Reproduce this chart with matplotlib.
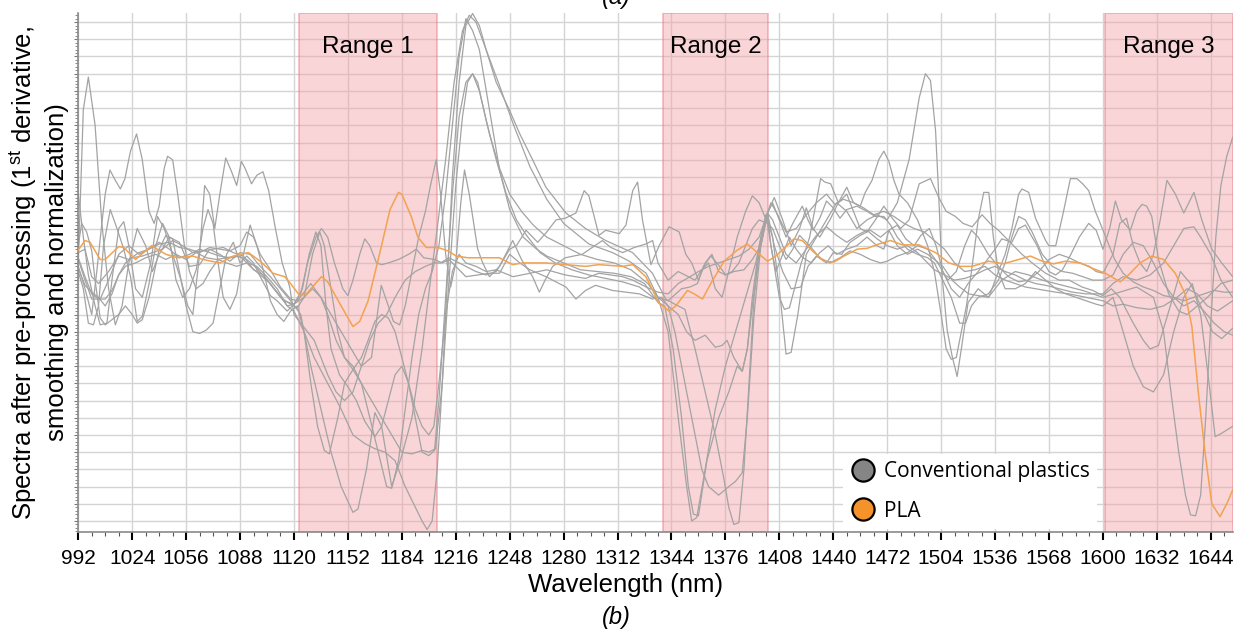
import numpy as np
import matplotlib
matplotlib.use("Agg")
import matplotlib.pyplot as plt
from matplotlib.lines import Line2D

plt.rcParams["font.family"] = ["Liberation Sans", "DejaVu Sans"]
plt.rcParams["mathtext.fontset"] = "custom"
plt.rcParams["mathtext.rm"] = "Liberation Sans"
plt.rcParams["mathtext.it"] = "Liberation Sans:italic"

# spectra: (wavelength nm, value in grid units)
g1 = [(992, 15.0), (995, 23.9), (998, 25.8), (1002, 23.0), (1006, 17.3), (1010, 13.5), (1014, 11.4), (1018, 12.5),
      (1022, 15.0), (1027, 17.0), (1032, 16.0), (1036, 14.5), (1040, 15.5), (1046, 16.5), (1052, 16.2), (1058, 14.8),
      (1064, 14.9), (1070, 15.8), (1076, 15.5), (1082, 15.1), (1088, 15.6), (1094, 15.5), (1100, 14.8), (1106, 14.2),
      (1112, 13.5), (1118, 12.8), (1124, 12.0), (1130, 9.0), (1136, 6.5), (1142, 4.0), (1148, 2.0), (1155, 0.5),
      (1158, 0.7), (1163, 3.0), (1168, 6.3), (1172, 5.5), (1178, 2.0), (1184, 3.8), (1190, 6.0), (1196, 10.0),
      (1201, 14.0), (1205, 17.0), (1210, 21.0), (1215, 25.5), (1220, 28.5), (1224, 29.4), (1228, 29.0), (1234, 27.4),
      (1242, 25.3), (1250, 23.1), (1260, 20.6), (1270, 18.7), (1280, 17.3), (1295, 16.1), (1309, 15.6), (1319, 15.1),
      (1329, 14.4), (1336, 13.0), (1342, 11.0), (1348, 6.0), (1353, 2.0), (1356, 0.0), (1359, 0.2), (1364, 3.0),
      (1370, 6.5), (1376, 9.0), (1382, 11.0), (1388, 13.0), (1394, 15.0), (1400, 17.8), (1404, 16.5), (1408, 13.5),
      (1412, 9.7), (1415, 9.8), (1419, 12.0), (1424, 15.5), (1430, 16.5), (1436, 17.5), (1442, 18.5), (1448, 18.0),
      (1454, 17.0), (1460, 17.5), (1466, 17.8), (1472, 17.5), (1478, 18.5), (1485, 21.0), (1491, 24.6), (1494.7, 26.0),
      (1497.7, 25.6), (1500.7, 22.7), (1502.6, 18.9), (1504.6, 14.2), (1507.6, 11.1), (1510.5, 9.6), (1513.5, 8.4),
      (1516, 10.0), (1520, 12.7), (1526, 13.5), (1532, 13.0), (1540, 14.0), (1548, 14.5), (1556, 14.3), (1564, 14.0),
      (1572, 13.8), (1580, 13.6), (1588, 13.4), (1594, 13.2), (1600, 13.0), (1610, 13.3), (1620, 13.6), (1630, 13.0),
      (1636, 11.0), (1641, 7.0), (1645, 4.0), (1649, 1.5), (1652, 0.35), (1655, 0.3), (1658, 1.5), (1661, 6.0),
      (1664, 11.5), (1667, 16.5), (1670, 19.5), (1673.5, 21.2), (1677, 22.3)]
g2 = [(992, 14.8), (996, 13.5), (1000, 12.0), (1003, 14.5), (1006, 17.3), (1008, 19.0), (1010.8, 20.4), (1014, 19.8),
      (1017, 19.3), (1019.7, 19.9), (1023, 21.5), (1026.6, 22.5), (1030, 21.0), (1034, 18.0), (1037, 17.3), (1040, 18.3),
      (1043, 20.5), (1045, 21.2), (1048, 21.0), (1051, 19.0), (1055, 16.0), (1058, 14.5), (1062, 13.5), (1066, 13.8),
      (1070, 14.5), (1075, 15.2), (1080, 15.0), (1086, 14.8), (1092, 15.0), (1098, 14.8), (1104, 14.2), (1110, 13.5),
      (1116, 12.5), (1120, 12.2), (1126, 11.0), (1132, 9.5), (1140, 8.0), (1148, 6.5), (1155, 5.0), (1162, 4.5),
      (1168, 4.2), (1174, 4.0), (1180, 3.5), (1186, 2.0), (1192, 0.8), (1196, 0.0), (1199, -0.5), (1202, 0.0),
      (1205, 3.0), (1208, 8.0), (1211, 14.0), (1214, 20.0), (1218, 25.5), (1222, 28.8), (1226, 29.5), (1230, 28.8),
      (1234, 27.4), (1240, 25.5), (1247.8, 23.9), (1254, 22.5), (1261.6, 21.0), (1269.5, 19.4), (1281.4, 17.9),
      (1293, 17.0), (1305, 16.3), (1320.9, 15.6), (1332.7, 14.4), (1340.6, 12.9), (1346, 12.6), (1352, 12.3),
      (1358, 10.0), (1364, 7.5), (1370, 5.0), (1375, 2.5), (1378, 0.8), (1381, -0.2), (1384, -0.1), (1387, 3.0),
      (1390, 8.0), (1393, 13.0), (1397, 16.5), (1401, 17.9), (1403, 16.0), (1408, 13.0), (1411, 12.3), (1414, 12.4),
      (1417, 13.5), (1421, 15.0), (1426, 16.5), (1432.5, 19.9), (1435, 19.7), (1438.5, 19.6), (1443, 18.5),
      (1448, 19.4), (1452, 18.5), (1456, 18.3), (1459, 19.1), (1463, 19.8), (1467, 21.0), (1470, 21.5), (1473, 20.9),
      (1476, 19.8), (1479, 19.0), (1484, 18.5), (1490, 17.5), (1496, 16.0), (1500, 14.5), (1504, 12.0), (1507, 10.0),
      (1510, 9.4), (1513, 9.5), (1516, 11.0), (1519, 12.5), (1522, 14.5), (1526, 17.5), (1529.3, 19.1), (1532.3, 19.1),
      (1535, 16.5), (1538, 14.5), (1542, 13.5), (1548, 13.5), (1554, 13.8), (1560, 14.5), (1566, 14.0), (1572, 13.5),
      (1578, 13.2), (1584, 13.0), (1590, 12.8), (1596, 12.6), (1600, 12.5), (1606, 13.0), (1612, 11.0), (1618, 9.0),
      (1624, 7.8), (1630, 7.5), (1636, 8.5), (1642, 11.0), (1648, 13.0), (1653, 13.8), (1658, 12.0), (1663, 8.0),
      (1666.6, 4.9), (1670.5, 5.1), (1677, 5.5)]
g3 = [(992, 14.5), (995, 13.5), (998, 11.5), (1001, 11.4), (1004, 12.5), (1007, 16.0), (1011, 18.1), (1015, 17.0),
      (1019, 15.8), (1023, 14.2), (1027, 11.6), (1030, 11.9), (1034, 13.8), (1038, 16.0), (1042, 17.3), (1046, 16.5),
      (1050, 14.0), (1054, 13.0), (1058, 13.5), (1062, 14.6), (1066, 17.0), (1069, 18.1), (1072, 17.3), (1075, 15.0),
      (1078, 13.0), (1082, 12.3), (1086, 13.2), (1090, 15.5), (1094, 17.2), (1098, 16.0), (1102, 14.5), (1106, 12.8),
      (1110, 12.0), (1114, 11.6), (1118, 12.2), (1122, 12.5), (1126, 11.0), (1130, 8.0), (1134, 5.5), (1138, 4.1),
      (1141, 3.9), (1146, 6.0), (1150, 8.0), (1155, 8.8), (1160, 8.0), (1165, 6.0), (1170, 4.0), (1175, 2.0),
      (1178, 1.9), (1182, 3.5), (1186, 6.5), (1190, 9.5), (1194, 12.0), (1198, 13.5), (1202, 14.5), (1206, 16.0),
      (1210, 19.0), (1214, 23.0), (1218, 27.0), (1222, 29.2), (1226, 28.5), (1230, 27.4), (1236, 23.9), (1242, 20.4),
      (1248, 18.1), (1256, 16.5), (1264, 15.8), (1270, 15.4), (1280, 15.0), (1290, 14.6), (1300, 14.5), (1310, 14.4),
      (1320, 14.2), (1328, 13.8), (1336, 12.7), (1340, 12.5), (1345, 10.0), (1350, 6.0), (1354, 2.0), (1357, 0.4),
      (1360, 0.3), (1365, 3.5), (1372, 6.0), (1378, 7.5), (1383, 9.0), (1386, 8.7), (1389, 10.0), (1392, 13.0),
      (1396, 16.0), (1401, 17.9), (1405, 18.8), (1410, 17.5), (1415, 16.0), (1420, 17.0), (1424, 18.2), (1428, 17.0),
      (1432, 16.5), (1438, 17.5), (1443, 18.5), (1448, 19.0), (1452, 18.0), (1456, 17.0), (1460, 16.8), (1465, 17.5),
      (1470, 18.3), (1475, 17.6), (1480, 17.0), (1485, 17.5), (1491, 19.6), (1497.7, 19.9), (1502.6, 18.8),
      (1507, 18.0), (1512.5, 17.7), (1517, 17.3), (1522.4, 17.1), (1528.3, 17.8), (1533, 17.3), (1538, 16.9),
      (1546, 16.1), (1552, 15.5), (1558, 15.0), (1566, 14.4), (1574, 14.0), (1580, 14.0), (1587.6, 13.6), (1594, 13.4),
      (1600, 13.1), (1605, 13.5), (1610, 13.0), (1618, 11.5), (1624, 10.5), (1628, 10.0), (1633, 10.2), (1640, 12.5),
      (1646, 14.5), (1652, 13.8), (1658, 12.5), (1665, 11.0), (1670.5, 10.6), (1677, 11.2)]
g4 = [(992, 15.3), (996, 14.2), (1000, 13.2), (1004, 12.9), (1008, 12.9), (1012, 13.4), (1016, 14.3), (1020, 15.0),
      (1024, 15.3), (1030, 15.4), (1036, 15.6), (1042, 15.8), (1048, 16.3), (1054, 16.0), (1060, 15.6), (1066, 15.7),
      (1072, 15.8), (1078, 15.9), (1084, 15.6), (1090, 15.4), (1096, 14.6), (1102, 14.3), (1108, 13.5), (1114, 12.8),
      (1120, 12.6), (1124, 13.2), (1128, 15.0), (1133, 16.5), (1136.3, 17.0), (1140, 16.5), (1144, 15.0), (1149, 13.5),
      (1152, 13.1), (1155, 14.0), (1159, 15.5), (1162, 16.4), (1165, 16.0), (1169, 15.0), (1172, 14.9), (1176, 15.0),
      (1182, 15.2), (1188, 15.5), (1192.6, 15.8), (1197, 15.3), (1203.4, 15.2), (1208, 15.0), (1212, 15.2),
      (1216, 14.8), (1222, 14.2), (1229, 14.3), (1236, 14.4), (1242, 14.4), (1248, 15.5), (1254, 15.0), (1260, 14.6),
      (1269.5, 14.2), (1281.4, 13.6), (1287.3, 12.9), (1293, 13.4), (1299, 13.7), (1309, 13.4), (1317, 13.3),
      (1325, 13.2), (1332.8, 12.9), (1336, 13.0), (1342, 12.8), (1350, 13.5), (1355, 13.6), (1359.4, 13.8),
      (1363, 14.8), (1367.3, 15.4), (1371, 15.0), (1376.2, 14.3), (1381, 14.5), (1387, 14.6), (1392, 15.2),
      (1397, 16.0), (1401, 17.9), (1405, 16.0), (1410, 14.5), (1415, 13.5), (1420.7, 13.6), (1425, 14.8), (1430, 15.4),
      (1436, 15.0), (1440, 15.6), (1445, 15.5), (1450, 16.2), (1456, 16.6), (1462, 16.9), (1468, 16.5), (1473, 16.9),
      (1478, 16.0), (1484, 15.5), (1490, 15.8), (1496, 15.5), (1500, 15.2), (1505, 14.8), (1510.5, 14.0), (1515, 13.6),
      (1520.4, 13.2), (1526, 13.1), (1532.3, 13.0), (1538, 14.5), (1542, 15.5), (1546, 17.0), (1550, 19.0),
      (1552, 19.3), (1556, 19.1), (1560, 17.6), (1566, 16.3), (1568, 16.0), (1572, 16.0), (1576, 17.7), (1580.7, 19.9),
      (1584.6, 19.9), (1588, 19.6), (1591.6, 19.2), (1595.5, 18.0), (1600.5, 16.8), (1603.3, 16.1), (1607, 15.2),
      (1612, 14.4), (1618, 13.9), (1624, 13.6), (1630, 13.4), (1636, 13.1), (1642, 13.0), (1648, 12.8), (1654, 13.0),
      (1660, 13.2), (1666, 13.4), (1672, 13.3), (1677, 13.3)]
g5 = [(992, 14.7), (996, 13.7), (1000, 13.3), (1004, 13.0), (1008, 12.5), (1012, 13.2), (1016, 14.3), (1020, 14.8),
      (1026, 15.0), (1032, 15.3), (1038, 15.5), (1044, 15.2), (1050, 15.5), (1056, 15.2), (1062, 15.6), (1068, 15.3),
      (1074, 15.2), (1080, 15.3), (1086, 15.4), (1092, 15.2), (1098, 14.7), (1104, 14.0), (1110, 13.3), (1116, 12.5),
      (1120, 12.6), (1126, 13.0), (1131, 15.5), (1135.3, 16.8), (1138, 16.0), (1142, 13.5), (1146, 11.0), (1150, 9.5),
      (1155, 9.0), (1160, 8.0), (1166, 7.0), (1172, 6.0), (1178, 5.0), (1184, 4.0), (1190, 3.9), (1196, 4.1),
      (1200, 4.0), (1204, 4.2), (1208, 8.0), (1212, 14.0), (1216, 19.5), (1220, 23.5), (1223, 25.5), (1226, 26.0),
      (1229, 25.5), (1234, 23.3), (1240, 21.0), (1246, 19.0), (1252, 17.5), (1258, 16.6), (1266, 15.6), (1275, 15.0),
      (1285, 14.6), (1295, 14.3), (1305, 14.1), (1315, 13.9), (1325, 13.6), (1333, 13.0), (1338, 13.0), (1342, 12.5),
      (1346, 11.0), (1352, 8.0), (1358, 5.0), (1362, 3.0), (1366, 2.0), (1372, 1.5), (1378, 2.0), (1382, 2.3),
      (1386, 2.8), (1389, 6.0), (1393, 12.0), (1397, 16.0), (1401, 17.9), (1404, 18.5), (1408, 17.5), (1412, 16.5),
      (1416, 17.3), (1421.6, 18.3), (1425, 17.5), (1428, 16.9), (1432, 17.6), (1436, 18.6), (1440, 18.2), (1444, 17.6),
      (1448, 18.1), (1454, 18.3), (1460, 18.0), (1465, 17.7), (1470, 17.7), (1474, 17.2), (1478, 16.5), (1484, 15.8),
      (1490, 15.5), (1496, 15.3), (1500, 15.0), (1505, 14.0), (1510, 13.0), (1515, 11.5), (1518.5, 11.5), (1522, 12.5),
      (1526, 13.0), (1532, 13.2), (1538, 14.0), (1542, 15.0), (1546, 16.5), (1550, 17.7), (1554, 17.5), (1558, 16.8),
      (1564, 15.5), (1570, 14.8), (1576, 14.5), (1582, 14.4), (1588, 14.2), (1594, 14.0), (1600, 14.0), (1606, 14.3),
      (1612, 15.5), (1618, 16.2), (1624, 16.0), (1630, 15.0), (1636, 13.8), (1642, 13.0), (1648, 12.5), (1654, 12.8),
      (1660, 12.2), (1666, 11.5), (1672, 11.0), (1677, 10.8)]
g6 = [(992, 16.0), (994, 17.3), (997, 16.8), (1000, 15.7), (1002, 14.0), (1005, 11.8), (1008, 11.4), (1012, 11.7),
      (1016, 12.0), (1020, 12.5), (1024, 12.0), (1027, 11.5), (1030, 11.7), (1034, 13.0), (1040, 15.8), (1044, 16.6),
      (1048, 16.4), (1052, 14.5), (1056, 12.5), (1060, 11.0), (1064, 10.9), (1068, 11.1), (1072, 11.5), (1076, 13.5),
      (1080, 15.5), (1084, 16.2), (1088, 15.0), (1092, 15.4), (1096, 15.0), (1100, 14.2), (1106, 13.1), (1110, 12.8),
      (1116, 12.2), (1120, 12.6), (1125, 13.5), (1129, 15.5), (1133, 16.8), (1136, 16.0), (1139, 12.5), (1142, 10.0),
      (1147, 8.5), (1152, 7.8), (1157, 7.0), (1162, 5.8), (1168, 4.9), (1172, 5.5), (1176, 7.0), (1180, 8.5),
      (1184, 9.0), (1188, 8.0), (1192, 6.0), (1196, 4.0), (1200, 3.8), (1203.4, 4.1), (1206, 7.0), (1210, 13.0),
      (1214, 19.0), (1218, 23.5), (1222, 25.5), (1226, 26.0), (1230, 25.0), (1236, 22.5), (1242, 20.5), (1248, 19.0),
      (1255, 18.0), (1262, 17.2), (1270, 16.5), (1280, 16.0), (1290, 15.5), (1300, 15.2), (1310, 15.0), (1320, 14.6),
      (1330, 13.8), (1336, 13.0), (1342, 12.5), (1348, 12.0), (1353, 11.0), (1358, 10.5), (1364, 10.8), (1370, 10.1),
      (1374, 10.2), (1377, 10.5), (1381, 9.5), (1386, 8.7), (1389, 10.0), (1392, 12.5), (1396, 15.5), (1401, 17.9),
      (1403, 18.5), (1407, 17.8), (1412, 16.8), (1418, 17.0), (1424, 17.8), (1430, 18.5), (1436, 19.0), (1441, 18.4),
      (1446, 18.7), (1452, 18.5), (1458, 18.2), (1464, 17.8), (1470, 18.0), (1476, 17.7), (1482, 17.3), (1488, 17.0),
      (1494, 16.8), (1500, 16.3), (1506, 15.8), (1512, 15.0), (1518, 14.5), (1524, 14.6), (1530, 14.8), (1536, 14.3),
      (1542, 14.0), (1548, 13.8), (1554, 13.6), (1560, 13.5), (1566, 13.4), (1572, 13.3), (1580, 13.2), (1590, 13.0),
      (1600, 12.8), (1606, 12.5), (1612, 12.6), (1620, 12.4), (1628, 12.3), (1636, 12.5), (1644, 13.0), (1650, 13.5),
      (1656, 13.2), (1662, 12.5), (1668, 12.2), (1677, 12.8)]
g7 = [(992, 19.0), (995, 16.5), (998, 14.3), (1002, 12.5), (1005, 11.4), (1009, 11.5), (1012, 14.0), (1016, 17.0),
      (1019, 17.4), (1022, 16.0), (1026, 13.5), (1030, 13.0), (1035, 15.0), (1039, 17.7), (1043, 17.0), (1048, 15.5),
      (1053, 14.0), (1057, 12.5), (1060, 12.0), (1064, 15.5), (1067, 19.5), (1070, 19.0), (1073, 17.0), (1076, 19.0),
      (1079.5, 21.1), (1083, 20.3), (1086, 19.5), (1088.8, 20.9), (1091, 20.5), (1094.8, 19.6), (1098, 20.1),
      (1101.6, 20.3), (1105, 19.2), (1109, 17.0), (1113, 15.0), (1117.5, 13.6), (1120, 12.0), (1124, 11.5),
      (1128, 11.0), (1132, 10.5), (1136, 9.5), (1140, 8.5), (1145, 7.5), (1150, 7.0), (1155, 7.5), (1160, 9.0),
      (1165, 10.5), (1170, 11.5), (1175, 12.0), (1180, 13.0), (1186, 14.0), (1192, 14.5), (1198, 14.8), (1203, 15.0),
      (1207, 15.0), (1212, 15.3), (1216, 15.1), (1222, 14.8), (1228, 14.5), (1234, 14.3), (1240, 14.5), (1248, 15.8),
      (1252, 16.0), (1257.7, 16.9), (1264.6, 16.2), (1270, 16.8), (1275.5, 17.5), (1281, 17.6), (1287.3, 17.9),
      (1292.2, 19.2), (1295, 18.9), (1301, 16.6), (1305, 16.9), (1313, 16.7), (1317, 17.2), (1321, 19.2),
      (1323.9, 19.7), (1326.8, 17.5), (1331.8, 14.9), (1336.7, 16.0), (1342.6, 17.1), (1348.6, 16.8), (1352.5, 15.5),
      (1356, 15.0), (1360, 14.0), (1364, 15.0), (1368, 15.5), (1372, 14.5), (1376, 14.3), (1380, 14.5), (1384, 15.0),
      (1388, 16.0), (1392, 17.0), (1396, 17.5), (1401, 17.3), (1403, 16.0), (1406, 14.5), (1410, 15.5), (1414, 16.5),
      (1418, 15.8), (1422, 15.3), (1427, 15.0), (1432, 15.6), (1437, 16.0), (1442, 15.5), (1448, 15.8), (1454, 16.0),
      (1460, 16.5), (1466, 16.0), (1470, 15.8), (1473, 16.9), (1478, 17.2), (1483, 16.4), (1488, 16.0), (1492, 16.6),
      (1497, 17.0), (1501, 16.0), (1505, 14.5), (1510, 13.5), (1515, 13.0), (1520, 13.8), (1526, 14.5), (1530, 15.0),
      (1536, 15.8), (1540, 16.4), (1546, 16.2), (1550, 17.0), (1554, 17.2), (1558, 16.5), (1561, 16.0), (1565, 15.0),
      (1568, 14.5), (1572, 14.3), (1576, 14.6), (1581, 15.5), (1586, 16.5), (1591.6, 17.3), (1596, 16.9), (1600, 15.8),
      (1604, 17.0), (1607.4, 18.6), (1611, 17.5), (1616.3, 16.9), (1620, 18.0), (1623.2, 18.4), (1626, 18.3),
      (1629, 17.7), (1633, 15.2), (1639, 13.2), (1645, 12.2), (1650, 12.0), (1656, 12.5), (1662, 13.0), (1670, 13.8),
      (1677, 14.0)]
g8 = [(992, 15.6), (996, 15.8), (1000, 14.2), (1004, 13.8), (1010, 14.5), (1016, 15.4), (1022, 15.2), (1028, 15.6),
      (1034, 15.8), (1040, 16.1), (1046, 16.2), (1052, 15.9), (1058, 15.8), (1064, 15.6), (1070, 15.9), (1076, 15.8),
      (1082, 15.7), (1088, 16.0), (1092, 16.8), (1096, 16.5), (1100, 15.5), (1106, 14.6), (1112, 13.6), (1118, 12.9),
      (1122, 12.8), (1126, 13.3), (1130, 13.8), (1136, 13.0), (1142, 12.0), (1148, 11.0), (1154, 10.0), (1160, 9.0),
      (1166, 9.5), (1171.8, 13.7), (1176, 12.5), (1179, 11.6), (1182.7, 11.4), (1186, 12.5), (1190, 14.5),
      (1194, 16.5), (1198, 18.0), (1201, 19.5), (1204.4, 21.0), (1207, 19.0), (1210, 15.5), (1213, 13.6), (1216, 15.0),
      (1219, 18.5), (1221.2, 20.4), (1224, 19.0), (1229, 15.8), (1232, 15.0), (1236, 14.2), (1242, 14.8),
      (1249.8, 16.3), (1255, 15.2), (1261.6, 14.2), (1265.6, 13.3), (1269, 14.0), (1273.5, 14.8), (1281, 15.3),
      (1291, 15.5), (1297, 15.9), (1303, 16.3), (1308, 15.9), (1315, 15.6), (1322, 15.9), (1328.8, 16.1),
      (1332.8, 16.3), (1336, 15.0), (1342, 14.0), (1348, 14.5), (1352, 14.3), (1358, 14.0), (1362, 14.6), (1366, 15.0),
      (1370, 13.5), (1374, 13.0), (1378, 14.5), (1383, 16.5), (1388, 18.0), (1392, 18.9), (1396, 18.5), (1401, 17.3),
      (1404, 17.0), (1408, 16.0), (1412, 15.2), (1416, 15.8), (1420, 16.6), (1426, 16.0), (1432, 15.3), (1438, 15.0),
      (1444, 15.3), (1450, 15.7), (1456, 15.5), (1462, 15.2), (1468, 15.0), (1472, 15.1), (1478, 15.4), (1484, 15.6),
      (1490, 16.0), (1496, 15.8), (1502, 15.0), (1508, 14.0), (1513, 14.5), (1518, 16.0), (1522, 16.9), (1526, 16.5),
      (1532, 15.5), (1538, 14.8), (1544, 14.2), (1550, 13.9), (1556, 14.0), (1562, 14.5), (1568, 15.2), (1574, 15.5),
      (1580, 15.3), (1586, 15.0), (1592, 14.8), (1596, 14.5), (1600, 14.4), (1606, 15.5), (1610, 17.3), (1614, 17.6),
      (1618, 16.0), (1622, 15.0), (1626, 14.5), (1630, 15.5), (1634, 17.5), (1638, 19.8), (1643, 19.0), (1648, 17.9),
      (1654, 19.1), (1658.7, 17.5), (1664.6, 15.8), (1670.5, 15.0), (1677, 14.2)]
g9 = [(992, 15.2), (996, 14.0), (1000, 12.9), (1005, 12.9), (1010, 14.0), (1016, 15.5), (1022, 16.0), (1028, 15.5),
      (1034, 15.8), (1040, 16.2), (1046, 15.8), (1052, 15.3), (1058, 15.5), (1064, 15.8), (1070, 15.6), (1076, 15.4),
      (1082, 15.3), (1088, 15.4), (1094, 14.8), (1100, 14.3), (1106, 13.8), (1112, 13.0), (1118, 12.6), (1122, 12.4),
      (1126, 13.0), (1131, 13.5), (1136, 13.0), (1140, 12.0), (1145, 10.5), (1150, 9.5), (1155, 8.8), (1160, 9.5),
      (1164, 10.5), (1168, 11.6), (1172, 12.0), (1176, 11.8), (1180, 11.0), (1184, 9.5), (1188, 8.0), (1192, 6.5),
      (1196, 5.5), (1200, 5.0), (1203, 5.5), (1206, 8.0), (1210, 12.0), (1214, 14.5), (1218, 15.5), (1222, 15.0),
      (1228, 14.8), (1234, 14.5), (1240, 14.6), (1250, 14.2), (1260, 14.4), (1270, 14.6), (1281, 14.3), (1293, 14.1),
      (1301, 14.4), (1315, 14.2), (1321, 14.0), (1329, 13.6), (1336, 13.3), (1342, 13.2), (1348, 13.8), (1355, 14.2),
      (1360, 14.5), (1366, 14.8), (1372, 15.0), (1378, 15.2), (1384, 15.4), (1390, 15.8), (1396, 16.5), (1401, 17.9),
      (1404, 17.5), (1408, 16.5), (1412, 15.5), (1418, 15.0), (1424, 15.8), (1430, 16.6), (1436, 17.1), (1442, 16.6),
      (1448, 16.2), (1454, 16.6), (1460, 16.9), (1466, 16.4), (1472, 16.0), (1478, 15.8), (1484, 16.0), (1490, 15.6),
      (1496, 15.0), (1500, 14.6), (1506, 14.3), (1512, 14.0), (1518, 14.1), (1524, 14.3), (1530, 14.6), (1536, 14.8),
      (1542, 14.5), (1548, 14.3), (1554, 14.0), (1560, 13.8), (1566, 13.7), (1574, 13.5), (1582, 13.3), (1590, 13.2),
      (1600, 13.2), (1606, 13.8), (1612, 14.2), (1620, 14.0), (1628, 14.3), (1636, 15.0), (1642, 16.0), (1648, 17.0),
      (1654, 17.1), (1658, 16.5), (1664, 15.5), (1670, 14.0), (1677, 13.0)]
conventional = [g1, g2, g3, g4, g5, g6, g7, g8, g9]

pla = [(992, 15.75), (996, 16.3), (999, 16.2), (1005, 15.2), (1008, 15.2), (1016, 15.95), (1019, 15.9), (1026, 15.2),
       (1035.5, 16.0), (1044, 15.5), (1051, 15.3), (1060, 15.4), (1066, 15.2), (1076, 15.0), (1084, 15.4),
       (1093, 15.6), (1100, 15.1), (1107.5, 14.4), (1114.5, 14.2), (1118, 13.8), (1123.4, 13.1), (1127.4, 13.2),
       (1136.3, 14.2), (1140, 13.9), (1148, 12.5), (1155, 11.3), (1159, 11.6), (1164, 12.8), (1170, 15.2),
       (1177, 18.1), (1182, 19.1), (1184, 19.0), (1189.6, 17.7), (1193.5, 16.5), (1198.5, 15.9), (1205.4, 15.9),
       (1211.4, 15.7), (1216.3, 15.4), (1223.2, 15.3), (1236, 15.3), (1241.9, 15.3), (1249.8, 14.9), (1255.7, 15.0),
       (1269.5, 15.0), (1281, 14.9), (1293, 14.8), (1301, 14.9), (1315, 14.8), (1321, 14.9), (1328.8, 14.2),
       (1336.7, 12.65), (1342.6, 12.2), (1346.6, 12.5), (1353.5, 13.4), (1357.5, 13.2), (1362.4, 12.9),
       (1367.3, 13.8), (1375.2, 15.1), (1383.1, 15.75), (1389, 16.1), (1395, 15.6), (1401, 15.1), (1406, 15.4),
       (1410.8, 15.85), (1416.7, 16.4), (1421.6, 16.3), (1427.6, 15.7), (1434.5, 15.1), (1440.4, 15.05),
       (1446.4, 15.4), (1454.2, 15.8), (1460.2, 15.85), (1467, 16.1), (1474, 16.3), (1481, 16.05), (1490.8, 16.05),
       (1500.7, 15.6), (1508.6, 15.0), (1515.5, 14.8), (1522.4, 14.8), (1532.3, 15.1), (1541, 14.95), (1550, 15.2),
       (1557, 15.4), (1564, 15.1), (1570.8, 14.95), (1577.7, 15.1), (1586.6, 15.0), (1593.5, 14.7), (1601.4, 14.4),
       (1610.3, 13.9), (1615.2, 14.3), (1622.1, 15.0), (1629, 15.4), (1636, 15.2), (1642.9, 14.4), (1648.8, 13.2),
       (1652.8, 11.3), (1656.7, 7.4), (1660.7, 3.9), (1664.6, 1.0), (1669.5, 0.25), (1673.5, 1.0), (1677, 1.8)]

ranges = [(1123, 1204.7), (1338.7, 1401.5), (1601, 1677)]
range_labels = ["Range 1", "Range 2", "Range 3"]
tick_pos = list(range(992, 1665, 32))
tick_labels = [str(t) for t in tick_pos[:-1]] + ["1644"]

GRAY = "#a3a3a3"
ORANGE = "#f2a251"

fig = plt.figure(figsize=(12.46, 6.33), dpi=100)
ax = fig.add_axes([0.0628, 0.1596, 0.9265, 0.8199])
ax.set_xlim(992, 1677)
ax.set_ylim(-0.64, 29.53)

for lo, hi in ranges:
    ax.axvspan(lo, hi, facecolor="#f2a2a7", alpha=0.45, edgecolor="#e3767d", lw=1.3, zorder=1)
for (lo, hi), lab in zip(ranges, range_labels):
    ax.text((lo + hi) / 2, 27.55, lab, ha="center", va="center", fontsize=17.5, zorder=5)

for pts in conventional:
    x, y = zip(*pts)
    ax.plot(x, y, color=GRAY, lw=0.9, zorder=2)
x, y = zip(*pla)
ax.plot(x, y, color=ORANGE, lw=1.1, zorder=3)

ax.set_xticks(tick_pos)
ax.set_xticklabels(tick_labels, fontsize=15)
ax.set_xticks(np.arange(992, 1677, 8), minor=True)
ax.set_yticks(np.arange(0, 30, 1))
ax.set_yticks(np.arange(-0.6, 29.6, 0.2), minor=True)
ax.set_yticklabels([])
ax.grid(which="major", color="#d4d4d4", lw=1.0, zorder=0)
ax.set_axisbelow(True)
ax.tick_params(axis="x", which="major", length=6, width=1.5, color="black", pad=6)
ax.tick_params(axis="x", which="minor", length=3, width=0.8, color="#555555")
ax.tick_params(axis="y", which="major", length=3, width=0.8, color="#777777")
ax.tick_params(axis="y", which="minor", length=2, width=0.6, color="#777777")
for side in ("top", "right"):
    ax.spines[side].set_visible(False)
for side in ("left", "bottom"):
    ax.spines[side].set_color("#8a8a8a")
    ax.spines[side].set_linewidth(1.2)

fig.text(626 / 1246, 1 - 585 / 633, "Wavelength (nm)", ha="center", va="center", fontsize=18.5)
fig.text(0.031, 0.5695, "Spectra after pre-processing (1$^{\\rm st}$ derivative,\nsmoothing and normalization)",
         rotation=90, ha="center", va="center", fontsize=18.5, multialignment="center", linespacing=1.3)
fig.text(0.495, 0.025, "(b)", ha="center", va="center", fontsize=17, style="italic")
fig.text(0.495, 0.985, "(a)", ha="center", va="bottom", fontsize=17, style="italic")

handles = [Line2D([], [], ls="none", marker="o", ms=16, mfc="#858585", mec="black", mew=1.6),
           Line2D([], [], ls="none", marker="o", ms=16, mfc="#f5922a", mec="black", mew=1.6)]
leg = ax.legend(handles, ["Conventional plastics", "PLA"], loc="lower left",
                bbox_to_anchor=(843 / 1246, 104 / 633), bbox_transform=fig.transFigure,
                prop={"family": "Open Sans", "size": 15}, frameon=True, fancybox=False,
                framealpha=1, edgecolor="none", facecolor="white", handletextpad=0.4,
                labelspacing=0.9, borderpad=0.35, handlelength=1.2, borderaxespad=0)
leg.set_zorder(6)

fig.savefig("out.png", dpi=100)
